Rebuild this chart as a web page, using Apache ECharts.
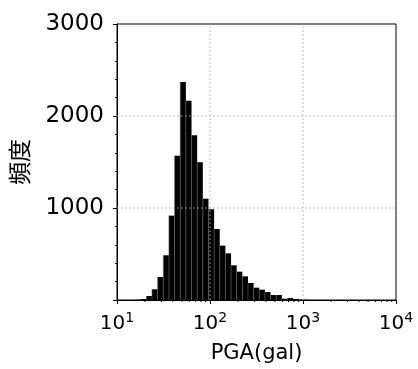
<!DOCTYPE html>
<html><head><meta charset="utf-8">
<script src="https://cdn.jsdelivr.net/npm/echarts@6/dist/echarts.min.js"></script>
<style>html,body{margin:0;padding:0;background:#fff}#c{width:418px;height:369px}</style>
</head><body><div id="c"></div>
<script>
// Histogram bin edges (gal, log-spaced) and counts
var binEdges = [15.63, 17.99, 20.69, 23.79, 27.36, 31.46, 36.18, 41.61, 47.85, 55.03, 63.29, 72.78, 83.70, 96.25, 110.7, 127.3, 146.4, 168.4, 193.6, 222.7, 256.1, 294.4, 338.6, 389.4, 447.9, 515.1, 592.4, 681.2, 783.4, 900.9, 1036, 1191];
var counts = [3, 10, 43, 116, 250, 486, 917, 1569, 2370, 2167, 1790, 1496, 1101, 986, 772, 591, 507, 377, 308, 257, 185, 134, 112, 87, 54, 54, 14, 22, 11, 5, 2];
var yTicks = [1000, 2000, 3000];
var xMinorTicks = [20,30,40,50,60,70,80,90,200,300,400,500,600,700,800,900,2000,3000,4000,5000,6000,7000,8000,9000];
var xGridVals = [100, 1000];
var yGridVals = [1000, 2000];
var xLabel = 'PGA(gal)';
var yLabel = '頻度';

var FONT = '"DejaVu Sans", "Noto Sans CJK JP", sans-serif';
var barData = counts.map(function (c, i) { return [binEdges[i], binEdges[i + 1], c]; });
var gridData = xGridVals.map(function (v) { return [v, 0, 0]; }).concat(yGridVals.map(function (v) { return [10, v, 1]; }));
var minorData = xMinorTicks.map(function (v) { return [v, 0]; });

var chart = echarts.init(document.getElementById('c'), null, { renderer: 'canvas' });
chart.setOption({
  animation: false,
  backgroundColor: '#fff',
  grid: { left: 117, right: 22, top: 24, bottom: 69, show: true, borderColor: '#000', borderWidth: 1, backgroundColor: 'transparent' },
  xAxis: {
    type: 'log', logBase: 10, min: 10, max: 10000,
    name: xLabel, nameLocation: 'middle', nameGap: 43,
    nameTextStyle: { fontFamily: FONT, fontSize: 21, color: '#000' },
    axisLine: { show: true, lineStyle: { color: '#000', width: 1 } },
    axisTick: { show: true, inside: false, length: 4, lineStyle: { color: '#000' } },
    splitLine: { show: false },
    axisLabel: {
      margin: 11, color: '#000',
      formatter: function (v) { var e = Math.round(Math.log(v) / Math.LN10); return '{b|10}{s|' + e + '}'; },
      rich: {
        b: { fontFamily: FONT, fontSize: 20, color: '#000' },
        s: { fontFamily: FONT, fontSize: 14, color: '#000', padding: [0, 0, 11, 0] }
      }
    }
  },
  yAxis: {
    type: 'value', min: 0, max: 3000, interval: 1000,
    name: yLabel, nameLocation: 'middle', nameGap: 83, nameRotate: 90,
    nameTextStyle: { fontFamily: FONT, fontSize: 23, color: '#000' },
    axisLine: { show: true, lineStyle: { color: '#000', width: 1 } },
    axisTick: { show: true, inside: false, length: 4, lineStyle: { color: '#000' } },
    minorTick: { show: true, splitNumber: 5, length: 2, lineStyle: { color: '#000' } },
    splitLine: { show: false },
    axisLabel: {
      margin: 13, color: '#000', fontFamily: FONT, fontSize: 23,
      formatter: function (v) { return yTicks.indexOf(v) >= 0 ? String(v) : ''; }
    }
  },
  series: [
    {
      type: 'custom', z: 2,
      encode: { x: [0, 1], y: 2 },
      data: barData,
      renderItem: function (params, api) {
        var p0 = api.coord([api.value(0), 0]);
        var p1 = api.coord([api.value(1), api.value(2)]);
        return {
          type: 'group',
          children: [
            { type: 'rect', shape: { x: p0[0], y: p1[1], width: p1[0] - p0[0], height: p0[1] - p1[1] }, style: { fill: '#000' } },
            { type: 'line', shape: { x1: p0[0], y1: p1[1], x2: p0[0], y2: p0[1] }, style: { stroke: '#666', lineWidth: 0.6 } }
          ]
        };
      }
    },
    {
      type: 'custom', z: 5, silent: true,
      encode: { x: 0, y: 1 },
      data: gridData,
      renderItem: function (params, api) {
        var v0 = api.value(0), v1 = api.value(1), t = api.value(2);
        var a, b;
        if (t === 0) { a = api.coord([v0, 0]); b = api.coord([v0, 3000]); }
        else { a = api.coord([10, v1]); b = api.coord([10000, v1]); }
        return {
          type: 'line',
          shape: { x1: a[0], y1: a[1], x2: b[0], y2: b[1] },
          style: { stroke: '#aaa', lineWidth: 1, lineDash: [1.5, 2.5] }
        };
      }
    },
    {
      type: 'custom', z: 5, silent: true, clip: false,
      encode: { x: 0, y: 1 },
      data: minorData,
      renderItem: function (params, api) {
        var a = api.coord([api.value(0), 0]);
        return {
          type: 'line',
          shape: { x1: a[0], y1: a[1], x2: a[0], y2: a[1] + 2 },
          style: { stroke: '#000', lineWidth: 1 }
        };
      }
    }
  ]
});
</script></body></html>
